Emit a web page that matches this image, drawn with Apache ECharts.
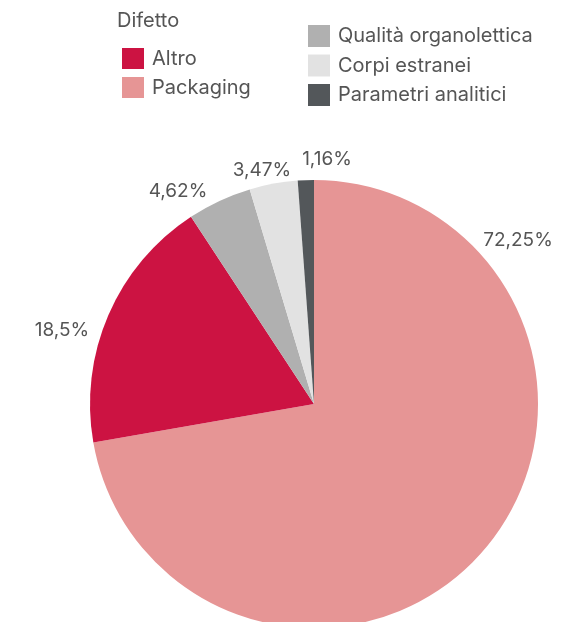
<!DOCTYPE html>
<html><head><meta charset="utf-8">
<script src="https://cdn.jsdelivr.net/npm/echarts@6/dist/echarts.min.js"></script>
<style>html,body{margin:0;padding:0;background:#fff}#c{width:582px;height:622px}</style>
</head><body><div id="c"></div>
<script>
const categories = ['Packaging', 'Altro', 'Qualità organolettica', 'Corpi estranei', 'Parametri analitici'];
const values = [72.25, 18.5, 4.62, 3.47, 1.16];
const colors = ['#E69595', '#CC1342', '#B0B0B0', '#E2E2E2', '#53575A'];
const labelPos = [[518, 240], [62, 330], [178, 191], [262, 170], [327, 159]];
const FONT = 'Inter';
const chart = echarts.init(document.getElementById('c'));
const legendText = { color: '#555555', fontSize: 20, fontFamily: FONT, padding: [0, 0, 0, 3] };
chart.setOption({
  animation: false,
  color: colors,
  title: { text: 'Difetto', left: 112, top: 6, textStyle: { color: '#555555', fontSize: 20, fontWeight: 'normal', fontFamily: FONT } },
  legend: [
    { data: ['Altro', 'Packaging'], orient: 'vertical', left: 117, top: 43, itemWidth: 22, itemHeight: 21, itemGap: 8, icon: 'rect', textStyle: legendText },
    { data: ['Qualità organolettica', 'Corpi estranei', 'Parametri analitici'], orient: 'vertical', left: 303, top: 20, itemWidth: 22, itemHeight: 22, itemGap: 7.5, icon: 'rect', textStyle: legendText }
  ],
  series: [{
    type: 'pie',
    center: [314, 404],
    radius: 224,
    startAngle: 90,
    clockwise: true,
    label: {
      show: true, position: 'outside', color: '#555555', fontSize: 19, fontFamily: FONT, overflow: 'none',
      formatter: p => String(p.value).replace('.', ',') + '%'
    },
    labelLine: { show: false },
    labelLayout: p => ({ x: labelPos[p.dataIndex][0], y: labelPos[p.dataIndex][1], align: 'center', verticalAlign: 'middle' }),
    itemStyle: { borderWidth: 0 },
    data: categories.map((c, i) => ({ name: c, value: values[i] }))
  }]
});
</script></body></html>
